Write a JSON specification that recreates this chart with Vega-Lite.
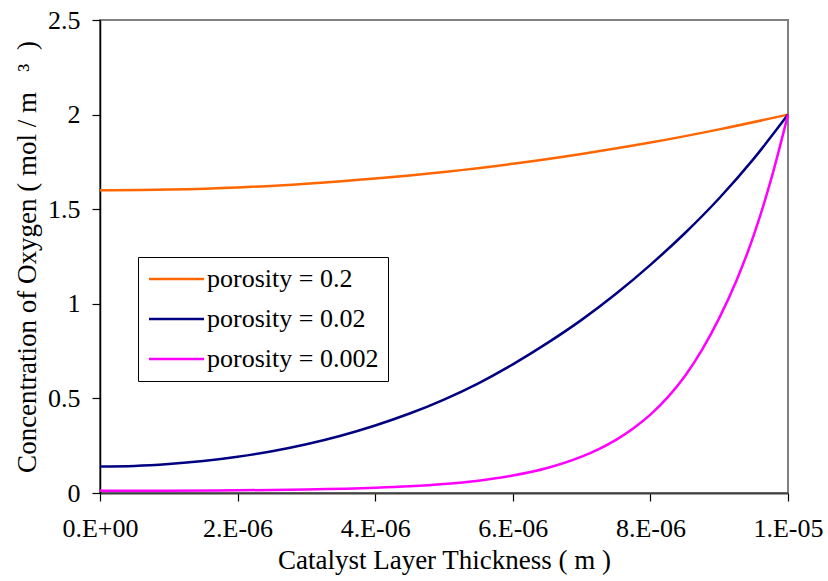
{
  "$schema": "https://vega.github.io/schema/vega-lite/v6.json",
  "width": 688,
  "height": 473,
  "autosize": {"type": "none"},
  "padding": {"left": 100, "top": 20, "right": 40, "bottom": 88},
  "background": "white",
  "config": {
    "font": "Liberation Serif",
    "view": {"stroke": "#808080", "strokeWidth": 2},
    "axis": {"grid": false, "labelFont": "Liberation Serif", "titleFont": "Liberation Serif", "labelColor": "black", "titleColor": "black", "labelFontSize": 26, "titleFontSize": 27, "titleFontWeight": "normal", "tickColor": "black", "tickSize": 8, "tickWidth": 1.2}
  },
  "data": {
    "values": [
      {"x": 0, "c": 1.600, "s": "porosity = 0.2"},
      {"x": 1e-6, "c": 1.604, "s": "porosity = 0.2"},
      {"x": 2e-6, "c": 1.615, "s": "porosity = 0.2"},
      {"x": 3e-6, "c": 1.635, "s": "porosity = 0.2"},
      {"x": 4e-6, "c": 1.662, "s": "porosity = 0.2"},
      {"x": 5e-6, "c": 1.697, "s": "porosity = 0.2"},
      {"x": 6e-6, "c": 1.740, "s": "porosity = 0.2"},
      {"x": 7e-6, "c": 1.792, "s": "porosity = 0.2"},
      {"x": 8e-6, "c": 1.852, "s": "porosity = 0.2"},
      {"x": 9e-6, "c": 1.922, "s": "porosity = 0.2"},
      {"x": 1e-5, "c": 2.000, "s": "porosity = 0.2"},
      {"x": 0, "c": 0.140, "s": "porosity = 0.02"},
      {"x": 5e-7, "c": 0.143, "s": "porosity = 0.02"},
      {"x": 1e-6, "c": 0.153, "s": "porosity = 0.02"},
      {"x": 1.5e-6, "c": 0.169, "s": "porosity = 0.02"},
      {"x": 2e-6, "c": 0.192, "s": "porosity = 0.02"},
      {"x": 2.5e-6, "c": 0.221, "s": "porosity = 0.02"},
      {"x": 3e-6, "c": 0.258, "s": "porosity = 0.02"},
      {"x": 3.5e-6, "c": 0.303, "s": "porosity = 0.02"},
      {"x": 4e-6, "c": 0.357, "s": "porosity = 0.02"},
      {"x": 4.5e-6, "c": 0.420, "s": "porosity = 0.02"},
      {"x": 5e-6, "c": 0.494, "s": "porosity = 0.02"},
      {"x": 5.5e-6, "c": 0.580, "s": "porosity = 0.02"},
      {"x": 6e-6, "c": 0.680, "s": "porosity = 0.02"},
      {"x": 6.5e-6, "c": 0.792, "s": "porosity = 0.02"},
      {"x": 7e-6, "c": 0.915, "s": "porosity = 0.02"},
      {"x": 7.5e-6, "c": 1.053, "s": "porosity = 0.02"},
      {"x": 8e-6, "c": 1.206, "s": "porosity = 0.02"},
      {"x": 8.5e-6, "c": 1.373, "s": "porosity = 0.02"},
      {"x": 9e-6, "c": 1.558, "s": "porosity = 0.02"},
      {"x": 9.5e-6, "c": 1.766, "s": "porosity = 0.02"},
      {"x": 1e-5, "c": 2.000, "s": "porosity = 0.02"},
      {"x": 0, "c": 0.012, "s": "porosity = 0.002"},
      {"x": 1e-6, "c": 0.0125, "s": "porosity = 0.002"},
      {"x": 2e-6, "c": 0.0142, "s": "porosity = 0.002"},
      {"x": 3e-6, "c": 0.0181, "s": "porosity = 0.002"},
      {"x": 4e-6, "c": 0.0272, "s": "porosity = 0.002"},
      {"x": 4.5e-6, "c": 0.0352, "s": "porosity = 0.002"},
      {"x": 5e-6, "c": 0.0473, "s": "porosity = 0.002"},
      {"x": 5.5e-6, "c": 0.0653, "s": "porosity = 0.002"},
      {"x": 6e-6, "c": 0.0921, "s": "porosity = 0.002"},
      {"x": 6.5e-6, "c": 0.132, "s": "porosity = 0.002"},
      {"x": 7e-6, "c": 0.192, "s": "porosity = 0.002"},
      {"x": 7.25e-6, "c": 0.232, "s": "porosity = 0.002"},
      {"x": 7.5e-6, "c": 0.281, "s": "porosity = 0.002"},
      {"x": 7.75e-6, "c": 0.341, "s": "porosity = 0.002"},
      {"x": 8e-6, "c": 0.414, "s": "porosity = 0.002"},
      {"x": 8.25e-6, "c": 0.505, "s": "porosity = 0.002"},
      {"x": 8.5e-6, "c": 0.617, "s": "porosity = 0.002"},
      {"x": 8.75e-6, "c": 0.756, "s": "porosity = 0.002"},
      {"x": 9e-6, "c": 0.924, "s": "porosity = 0.002"},
      {"x": 9.25e-6, "c": 1.122, "s": "porosity = 0.002"},
      {"x": 9.5e-6, "c": 1.360, "s": "porosity = 0.002"},
      {"x": 9.75e-6, "c": 1.652, "s": "porosity = 0.002"},
      {"x": 1e-5, "c": 2.000, "s": "porosity = 0.002"}
    ]
  },
  "mark": {"type": "line", "strokeWidth": 2.5, "interpolate": "monotone"},
  "encoding": {
    "x": {
      "field": "x", "type": "quantitative",
      "scale": {"domain": [0, 1e-5], "nice": false, "zero": false},
      "axis": {
        "title": "Catalyst Layer Thickness ( m )",
        "values": [0, 2e-6, 4e-6, 6e-6, 8e-6, 1e-5],
        "labelExpr": "datum.value === 0 ? '0.E+00' : (datum.value > 9.9e-6 ? '1.E-05' : format(datum.value * 1e6, '.0f') + '.E-06')",
        "domainColor": "#404040", "domainWidth": 2,
        "labelPadding": 14, "titlePadding": 6, "labelFlush": false, "labelOverlap": false
      }
    },
    "y": {
      "field": "c", "type": "quantitative",
      "scale": {"domain": [0, 2.5], "nice": false},
      "axis": {
        "title": "Concentration of Oxygen ( mol / m\u00a0\u00a0 ³\u00a0 )",
        "values": [0, 0.5, 1, 1.5, 2, 2.5],
        "format": "~g",
        "domainColor": "black", "domainWidth": 1.5,
        "labelPadding": 12, "titlePadding": 6, "labelFlush": false, "labelOverlap": false
      }
    },
    "color": {
      "field": "s", "type": "nominal",
      "scale": {"domain": ["porosity = 0.2", "porosity = 0.02", "porosity = 0.002"], "range": ["#FF6600", "#000080", "#FF00FF"]},
      "legend": {
        "title": null,
        "orient": "none",
        "legendX": 38,
        "legendY": 237,
        "symbolType": "M-1,0H4",
        "symbolSize": 484,
        "symbolStrokeWidth": 2.5,
        "labelFont": "Liberation Serif",
        "labelFontSize": 26,
        "labelColor": "black",
        "labelLimit": 400,
        "labelOffset": 34,
        "rowPadding": 14,
        "padding": 9,
        "strokeColor": "black",
        "fillColor": "white",
        "cornerRadius": 0
      }
    }
  }
}
